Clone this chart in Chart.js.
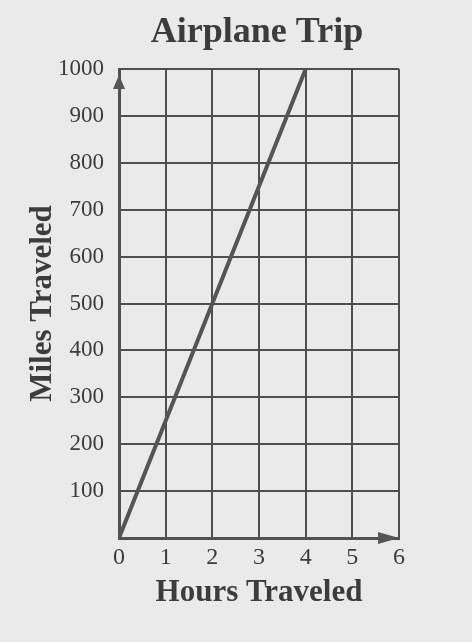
<!DOCTYPE html>
<html>
<head>
<meta charset="utf-8">
<script src="https://cdn.jsdelivr.net/npm/chart.js@4"></script>
<style>
  html, body { margin: 0; padding: 0; background: #eaeaea; }
  #wrap { width: 472px; height: 642px; }
</style>
</head>
<body>
<div id="wrap"><canvas id="chart_div" width="472" height="642"></canvas></div>
<script>
const chartTitle = 'Airplane Trip';
const hours = [0, 1, 2, 3, 4];
const miles = [0, 250, 500, 750, 1000];
const xTicks = [0, 1, 2, 3, 4, 5, 6];
const yTicks = [100, 200, 300, 400, 500, 600, 700, 800, 900, 1000];

const SERIF = '"Liberation Serif", "Times New Roman", serif';
const INK = '#3c3c3c';
const LINE = '#4e4e4e';

const points = hours.map((h, i) => ({ x: h, y: miles[i] }));

// paper background, title, axis arrows
const paper = {
    id: 'paper',
    beforeDraw(chart) {
        const c = chart.ctx;
        c.save();
        c.fillStyle = '#eaeaea';
        c.fillRect(0, 0, chart.width, chart.height);
        c.restore();
    },
    afterDraw(chart) {
        const c = chart.ctx;
        const a = chart.chartArea;
        c.save();
        c.fillStyle = INK;
        c.font = 'bold 36px ' + SERIF;
        c.textAlign = 'center';
        c.textBaseline = 'alphabetic';
        c.fillText(chartTitle, 257, 42);

        c.fillStyle = '#555';
        // y axis arrow
        c.beginPath();
        c.moveTo(a.left, a.top + 6);
        c.lineTo(a.left - 6, a.top + 20);
        c.lineTo(a.left + 6, a.top + 20);
        c.closePath();
        c.fill();
        // x axis arrow
        c.beginPath();
        c.moveTo(a.right, a.bottom);
        c.lineTo(a.right - 21, a.bottom - 6);
        c.lineTo(a.right - 21, a.bottom + 6);
        c.closePath();
        c.fill();
        c.restore();
    }
};

new Chart(document.getElementById('chart_div'), {
    type: 'scatter',
    data: {
        datasets: [{
            data: points,
            showLine: true,
            borderColor: '#555',
            borderWidth: 4,
            pointRadius: 0,
            fill: false
        }]
    },
    options: {
        responsive: false,
        animation: false,
        layout: { padding: { left: 0, right: 73, top: 69, bottom: 0 } },
        plugins: {
            legend: { display: false },
            tooltip: { enabled: false },
            title: { display: false }
        },
        scales: {
            x: {
                type: 'linear',
                min: 0,
                max: 6,
                afterBuildTicks: s => { s.ticks = xTicks.map(v => ({ value: v })); },
                afterFit: s => { s.height = 104; },
                grid: { color: LINE, lineWidth: 2, drawTicks: false },
                border: { color: '#505050', width: 3 },
                ticks: {
                    color: INK,
                    padding: 5,
                    font: { family: SERIF, size: 24 }
                },
                title: {
                    display: true,
                    text: 'Hours Traveled',
                    color: INK,
                    font: { family: SERIF, size: 31, weight: 'bold' },
                    padding: { top: 4, bottom: 30 }
                }
            },
            y: {
                type: 'linear',
                min: 0,
                max: 1000,
                afterBuildTicks: s => { s.ticks = [0].concat(yTicks).map(v => ({ value: v })); },
                afterFit: s => { s.width = 119; },
                grid: { color: LINE, lineWidth: 2, drawTicks: false },
                border: { color: '#505050', width: 3 },
                ticks: {
                    color: INK,
                    padding: 15,
                    font: { family: SERIF, size: 23 },
                    callback: v => v === 0 ? '' : v
                },
                title: {
                    display: true,
                    text: 'Miles Traveled',
                    color: INK,
                    font: { family: SERIF, size: 31, weight: 'bold' },
                    padding: { top: 24, bottom: 4 }
                }
            }
        }
    },
    plugins: [paper]
});
</script>
</body>
</html>
